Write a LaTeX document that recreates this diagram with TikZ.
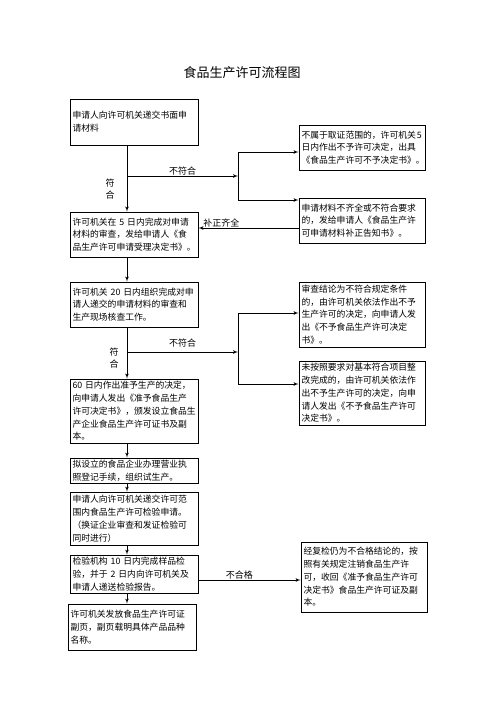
\documentclass[tikz,border=0pt]{standalone}
\usepackage{fontspec}
\setmainfont{Noto Sans CJK SC}
\usepackage{tikz}
\usetikzlibrary{arrows}
\usetikzlibrary{calc, positioning}

\tikzset{
  box/.style={draw, line width=.8pt, align=left, inner xsep=2.5pt, inner ysep=1pt,
    font=\fontsize{8.8}{12.8}\selectfont},
  lbox/.style={box, text width=123pt},
  rbox/.style={box, text width=121pt},
  lbl/.style={font=\fontsize{9}{12.5}\selectfont, inner sep=.5pt},
}

\begin{document}
\begin{tikzpicture}[>=latex', x=1pt, y=-1pt, line width=.7pt]
\useasboundingbox (0,0) rectangle (496,702);
\node[font=\fontsize{13}{15}\selectfont] (title) at (242,73) {食品生产许可流程图};

% left column
\node[lbox, minimum height=46pt] (B1) at (134,122) {申请人向许可机关递交书面申\\请材料};
\node[lbox, minimum height=45pt] (B2) at (134,234.5) {许可机关在 5 日内完成对申请\\材料的审查，发给申请人《食\\品生产许可申请受理决定书》。};
\node[lbox, minimum height=45pt] (B3) at (134,304.5) {许可机关 20 日内组织完成对申\\请人递交的申请材料的审查和\\生产现场核查工作。};
\node[lbox, minimum height=64pt] (B4) at (134,411) {60 日内作出准予生产的决定，\\向申请人发出《准予食品生产\\许可决定书》，颁发设立食品生\\产企业食品生产许可证书及副\\本。};
\node[lbox, minimum height=25pt] (B5) at (134,470.5) {拟设立的食品企业办理营业执\\照登记手续，组织试生产。};
\node[lbox, minimum height=53pt] (B6) at (134,518.5) {申请人向许可机关递交许可范\\围内食品生产许可检验申请。\\（换证企业审查和发证检验可\\同时进行）};
\node[lbox, minimum height=38pt] (B7) at (134,574) {检验机构 10 日内完成样品检\\验，并于 2 日内向许可机关及\\申请人递送检验报告。};
\node[lbox, minimum height=46pt] (B8) at (132,627) {许可机关发放食品生产许可证\\副页，副页载明具体产品品种\\名称。};

% right column
\node[rbox, minimum height=45pt] (R1) at (362,147.5) {不属于取证范围的，许可机关\kern1pt 5\\日内作出不予许可决定，出具\\《食品生产许可不予决定书》。};
\node[rbox, minimum height=45pt] (R2) at (362,220.5) {申请材料不齐全或不符合要求\\的，发给申请人《食品生产许\\可申请材料补正告知书》。};
\node[rbox, minimum height=65pt] (R3) at (362,314.5) {审查结论为不符合规定条件\\的，由许可机关依法作出不予\\生产许可的决定，向申请人发\\出《不予食品生产许可决定\\书》。};
\node[rbox, minimum height=64pt] (R4) at (362,393) {未按照要求对基本符合项目整\\改完成的，由许可机关依法作\\出不予生产许可的决定，向申\\请人发出《不予食品生产许可\\决定书》。};
\node[rbox, minimum height=70pt] (R5) at (364,577) {经复检仍为不合格结论的，按\\照有关规定注销食品生产许\\可，收回《准予食品生产许可\\决定书》食品生产许可证及副\\本。};

% main line
\coordinate (spine) at (127,0);
\foreach \a/\b in {B1/B2,B2/B3,B3/B4,B4/B5,B5/B6,B6/B7,B7/B8}
  \draw[->] (\a.south -| spine) -- (\b.north -| spine);

% first check
\coordinate (j1) at (238,176);
\coordinate (k1a) at (238,152);
\coordinate (k1b) at (238,200);
\coordinate (k1c) at (0,228);
\draw[->] (j1 -| spine) -- node[lbl, above] {不符合} (j1);
\node[lbl, align=center] (ok1) at (110,189) {符\\合};
\draw (k1a) -- (k1b);
\draw[->] (k1a) -- (k1a -| R1.west);
\draw[->] (k1b) -- (k1b -| R2.west);
\draw[->] (k1c -| R2.west) -- node[lbl, above, pos=.77] {补正齐全} (k1c -| B2.east);

% second check
\coordinate (j2) at (238,352);
\coordinate (k2a) at (238,313);
\coordinate (k2b) at (238,384);
\draw[->] (j2 -| spine) -- node[lbl, above=4pt] {不符合} (j2);
\node[lbl, align=center] (ok2) at (114,358) {符\\合};
\draw (k2a) -- (k2b);
\draw[->] (k2a) -- (k2a -| R3.west);
\draw[->] (k2b) -- (k2b -| R4.west);

% inspection
\coordinate (j3) at (0,580);
\draw[->] (j3 -| B7.east) -- node[lbl, above, pos=.4] {不合格} (j3 -| R5.west);
\end{tikzpicture}
\end{document}
